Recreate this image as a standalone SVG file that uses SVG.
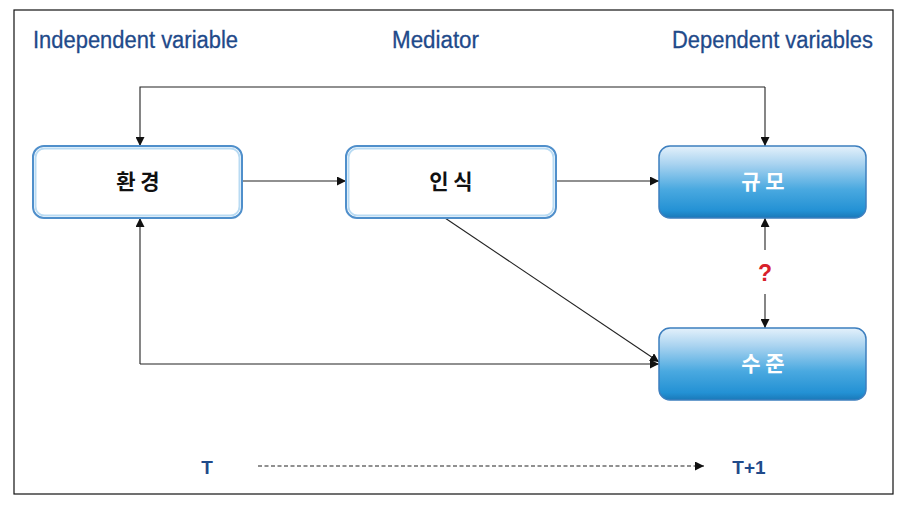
<svg xmlns="http://www.w3.org/2000/svg" width="905" height="510" viewBox="0 0 905 510">
<defs>
<linearGradient id="blueFill" x1="0" y1="0" x2="0" y2="1">
<stop offset="0" stop-color="#e4f1fb"/>
<stop offset="0.25" stop-color="#a9d3f0"/>
<stop offset="0.6" stop-color="#4aa9e0"/>
<stop offset="0.9" stop-color="#2391d4"/>
<stop offset="1" stop-color="#1a78b8"/>
</linearGradient>
<marker id="arr" viewBox="0 0 10 10" refX="10" refY="5" markerWidth="9" markerHeight="9" markerUnits="userSpaceOnUse" orient="auto">
<path d="M0,0 L10,5 L0,10 z" fill="#111"/>
</marker>
<style>
.hdr{font-family:"Liberation Sans",Arial,sans-serif;font-size:23px;fill:#1f4a8a;stroke:#1f4a8a;stroke-width:0.3;}
.lbl{font-family:"Noto Sans CJK KR","Noto Sans",sans-serif;font-size:21px;font-weight:bold;text-anchor:middle;}
.wnode{fill:#fff;stroke:#4f8fcb;stroke-width:2;}
.wglow{fill:none;stroke:#b9dbf3;stroke-width:2;}
.bnode{fill:url(#blueFill);stroke:#3d7fbf;stroke-width:1.5;}
.ln{fill:none;stroke:#222;stroke-width:1.1;}
.tm{font-family:"Liberation Sans",Arial,sans-serif;font-size:19px;font-weight:bold;fill:#1f4a8a;}
</style>
</defs>
<rect x="14" y="10" width="879" height="484" fill="#fff" stroke="#111" stroke-width="1.2"/>
<text class="hdr" x="33" y="48" textLength="205" lengthAdjust="spacingAndGlyphs">Independent variable</text>
<text class="hdr" x="392" y="48" textLength="87" lengthAdjust="spacingAndGlyphs">Mediator</text>
<text class="hdr" x="672" y="48" textLength="201" lengthAdjust="spacingAndGlyphs">Dependent variables</text>
<g id="connectors">
<path class="ln" d="M765,87 L765,146" marker-end="url(#arr)"/>
<path class="ln" d="M765,87 L140,87 L140,146" marker-end="url(#arr)"/>
<path class="ln" d="M242,181 L346,181" marker-end="url(#arr)"/>
<path class="ln" d="M556,181 L659,181" marker-end="url(#arr)"/>
<path class="ln" d="M445,218 L659,362" marker-end="url(#arr)"/>
<path class="ln" d="M140,364 L140,218" marker-end="url(#arr)"/>
<path class="ln" d="M140,364 L659,364" marker-end="url(#arr)"/>
<path class="ln" d="M765,250 L765,218" marker-end="url(#arr)"/>
<path class="ln" d="M765,294 L765,328" marker-end="url(#arr)"/>
<text x="765" y="281" text-anchor="middle" font-family="Liberation Sans,Arial,sans-serif" font-size="23" font-weight="bold" fill="#d8202a">?</text>
<path class="ln" d="M258,466 L704,466" stroke-dasharray="4,2.5" marker-end="url(#arr)"/>
</g>
<g id="node-env">
<rect class="wnode" x="33" y="146" width="209" height="72" rx="11"/>
<rect class="wglow" x="35.5" y="148.5" width="204" height="67" rx="9"/>
<text class="lbl" x="138" y="189" fill="#111">환 경</text>
</g>
<g id="node-perception">
<rect class="wnode" x="346" y="146" width="210" height="72" rx="11"/>
<rect class="wglow" x="348.5" y="148.5" width="205" height="67" rx="9"/>
<text class="lbl" x="451" y="189" fill="#111">인 식</text>
</g>
<g id="node-scale">
<rect class="bnode" x="659" y="146" width="207" height="72" rx="11"/>
<text class="lbl" x="763" y="189" fill="#fff">규 모</text>
</g>
<g id="node-level">
<rect class="bnode" x="659" y="328" width="207" height="72" rx="11"/>
<text class="lbl" x="763" y="371" fill="#fff">수 준</text>
</g>
<text class="tm" x="207" y="474" text-anchor="middle">T</text>
<text class="tm" x="749" y="474" text-anchor="middle">T+1</text>
</svg>
